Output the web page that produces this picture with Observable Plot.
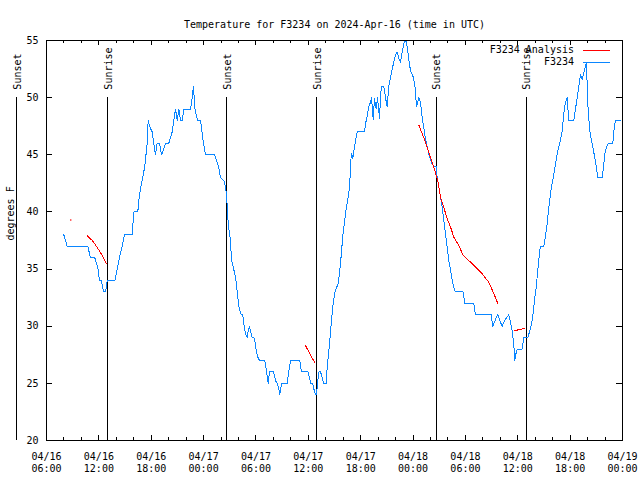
<!DOCTYPE html>
<html><head><meta charset="utf-8">
<script src="https://cdn.jsdelivr.net/npm/d3@7"></script>
<script src="https://cdn.jsdelivr.net/npm/@observablehq/plot@0.6"></script>
<style>body{margin:0;background:#fff;}</style>
</head><body><div id="chart"></div>
<script>
// Hours since 2024-04-16 00:00 UTC
const blueHours = [7.98,8.37,10.73,11.04,11.53,11.73,11.90,12.07,12.27,12.42,12.53,12.76,12.96,13.83,14.10,14.36,14.67,14.94,15.82,16.00,16.46,16.58,16.77,17.03,17.26,17.54,17.65,17.80,18.11,18.29,18.49,18.68,18.95,19.18,19.44,19.64,20.01,20.40,20.59,20.78,20.98,21.16,21.35,21.55,21.73,22.50,22.69,22.84,23.01,23.30,23.65,23.82,23.99,24.22,25.25,25.48,25.71,25.94,26.31,26.43,26.62,26.70,26.77,26.89,27.08,27.20,27.39,27.54,27.66,27.77,27.89,28.03,28.23,28.49,28.61,28.80,29.00,29.11,29.26,29.37,29.57,29.75,29.87,30.03,30.21,30.41,31.01,31.21,31.40,31.55,32.01,32.24,32.43,32.62,32.73,32.93,33.58,33.76,33.96,35.02,35.22,35.98,36.13,36.28,36.51,36.67,36.82,36.94,37.05,37.20,37.40,37.59,37.77,38.05,38.16,38.28,38.46,38.62,38.85,39.00,39.19,39.42,39.61,39.77,39.95,40.14,40.34,40.52,40.75,40.83,40.95,41.10,41.41,41.60,42.44,42.55,42.75,42.93,43.12,43.24,43.43,43.58,43.78,43.93,44.16,44.27,44.38,44.65,44.84,45.04,45.22,45.42,45.61,45.79,45.99,46.18,46.37,46.56,46.76,46.94,47.05,47.25,47.40,47.63,47.79,48.02,48.17,48.28,48.39,48.66,48.85,49.04,49.23,49.42,49.62,49.80,50.00,50.19,50.37,50.68,50.76,50.95,51.15,51.34,51.52,51.72,51.91,52.10,52.29,52.49,52.67,52.86,53.74,53.93,54.96,55.15,56.95,57.14,57.45,57.71,57.94,58.21,58.48,58.79,58.97,59.17,59.36,59.55,59.66,59.82,59.93,60.51,60.69,61.15,61.38,61.57,61.72,61.84,61.95,62.11,62.22,62.41,62.52,62.60,62.98,63.18,63.37,63.56,63.75,63.94,64.13,64.32,64.52,64.70,64.89,65.09,65.27,65.47,65.66,65.84,66.42,66.61,66.81,66.99,67.19,67.38,67.57,67.76,67.87,68.02,68.22,68.45,68.64,68.79,68.98,69.17,69.67,69.86,69.97,70.17,70.36,70.89,71.08,71.20,71.77];
const blueTemps = [38,37,37,36,36,35.5,35,34,34,33.5,33,33,34,34,35,36,37,38,38,40,40,41,42,43,44,46,48,47.5,47,46,45,46,46,45,45.5,46,46,47,48,49,48,49,48,48,49,49,50,51,49,48,48,47,46,45,45,44.5,44,43,42.75,42.5,41.6,40.6,39.5,38.5,37.5,35.75,35.2,34.7,34.3,33.6,32.8,31.8,31.1,31,30.2,29.3,29,29.6,30,29.6,29,29,28.75,27.9,27.3,27,27,26.1,25,26,26,25.25,25,24.5,24,25,25,26,27,27,26,26,25.5,25,25,24.4,24,24,25,26,26,25.5,25,25,26.4,27.3,28.75,30.2,32,32.8,33.3,33.7,34.9,36.2,37.9,39.1,40.3,41.1,42.3,44.2,45.1,44.7,46.25,47,47,47.7,48.4,49.2,49.6,50,48.1,49.9,49,50,48.2,50,51,51,50,49.2,51,51.8,52.5,53.1,53.7,54,53.4,53.1,54,54.7,55,54.9,54,52.7,52.2,51.8,51.2,50.6,49.2,50,49.6,48.3,47.4,46.4,45.7,45.1,44.6,44.2,44,44,43,42.2,41.3,40.4,39.25,38.1,36.9,35.75,34.9,34,33.4,33,33,32,32,31,31,30,30.6,31,30.5,30,30.5,30.8,31,30.3,29.6,28.3,27,27.7,28,28,29,29,29.6,30.2,30.9,31.7,32.5,33.4,34.3,35.75,36.6,37,37,37.9,39,40.4,41.6,42.5,43.3,44.2,45.1,45.7,46.25,47.1,48.6,49.6,50,48,48,49,50,51,52,51.6,52.2,52.8,53,49.5,47.3,46.25,45.5,44.9,44,43,43,44.2,45.1,45.7,46,46,47.6,48,48];

const redHours   = [8.78, 10.70,11.24,11.81,12.38,12.84, 35.68,36.74, 48.66,49.23,49.80,50.38,50.83,51.15,51.52,51.91,52.29,52.67,53.24,53.74,54.38,55.15,55.92,56.67,57.18,57.71, 59.66,60.12,60.77];
const redTemps   = [39.3, 37.9,37.5,36.9,36.2,35.5, 28.3,26.8, 47.6,46.5,45.2,43.9,42.75,41.3,40.4,39.4,38.7,37.8,37.06,36.2,35.75,35.2,34.6,33.85,33,32, 29.6,29.7,29.8];
const redSegment = [1, 2,2,2,2,2, 3,3, 4,4,4,4,4,4,4,4,4,4,4,4,4,4,4,4,4,4, 5,5,5];

const eventHours  = [2.56, 13.02, 26.66, 36.97, 50.65, 60.96];
const eventLabels = ["Sunset","Sunrise","Sunset","Sunrise","Sunset","Sunrise"];

const xMajorTicks = [6,12,18,24,30,36,42,48,54,60,66,72];
const xMinorTicks = [8,10,14,16,20,22,26,28,32,34,38,40,44,46,50,52,56,58,62,64,68,70];
const yTicks = [20,25,30,35,40,45,50,55];
const titleText = "Temperature for F3234 on 2024-Apr-16 (time in UTC)";
const yLabel = "degrees F";
const legendNames = ["F3234 Analysis", "F3234"];
const blueColor = "#0a86ff";
const redColor = "#ff0000";

const blue = blueHours.map((h, i) => ({h, t: blueTemps[i]}));
const red = redHours.map((h, i) => ({h, t: redTemps[i], s: redSegment[i]}));
const counts = d3.rollup(red, v => v.length, d => d.s);
const redLines = red.filter(d => counts.get(d.s) > 1);
const redDots = red.filter(d => counts.get(d.s) === 1);
const events = eventHours.map((h, i) => ({h, label: eventLabels[i]}));

const fmt = h => {
  const day = 16 + Math.floor(h / 24);
  const hr = h % 24;
  return `04/${day}\n${String(hr).padStart(2, "0")}:00`;
};

const W = 640, H = 480, mL = 46, mR = 18, mT = 40, mB = 40;
const fw = W - mL - mR, fh = H - mT - mB;
const font = "DejaVu Sans Mono";
const crisp = {stroke: "black", shapeRendering: "crispEdges"};

const chart = Plot.plot({
  width: W, height: H,
  marginLeft: mL, marginRight: mR, marginTop: mT, marginBottom: mB,
  style: {fontFamily: font, fontSize: "10px", background: "white", color: "black", overflow: "visible"},
  x: {domain: [6, 72]},
  y: {domain: [20, 55]},
  marks: [
    Plot.ruleX(xMajorTicks, {x: d => d, insetTop: fh - 5, ...crisp}),
    Plot.ruleX(xMajorTicks, {x: d => d, insetBottom: fh - 5, ...crisp}),
    Plot.ruleX(xMinorTicks, {x: d => d, insetTop: fh - 3, ...crisp}),
    Plot.ruleX(xMinorTicks, {x: d => d, insetBottom: fh - 3, ...crisp}),
    Plot.ruleY(yTicks, {y: d => d, insetRight: fw - 6, ...crisp}),
    Plot.ruleY(yTicks, {y: d => d, insetLeft: fw - 6, ...crisp}),
    Plot.axisX(xMajorTicks, {tickSize: 0, tickPadding: 11, tickFormat: fmt, lineHeight: 1.2, label: null, fontSize: 10}),
    Plot.axisY(yTicks, {tickSize: 0, tickPadding: 8, label: null, fontSize: 10}),
    Plot.ruleX(events, {x: "h", y1: 20, y2: 50, strokeWidth: 1, ...crisp}),
    Plot.text(events, {x: "h", y: 50, text: "label", rotate: -90, textAnchor: "start", dy: -8, dx: 1, fill: "black", fontSize: 10}),
    Plot.line(blue, {x: "h", y: "t", stroke: blueColor, strokeWidth: 1, shapeRendering: "crispEdges"}),
    Plot.line(redLines, {x: "h", y: "t", z: "s", stroke: redColor, strokeWidth: 1, shapeRendering: "crispEdges"}),
    Plot.dot(redDots, {x: "h", y: "t", r: 0.8, fill: redColor, stroke: null}),
    Plot.frame({stroke: "black", shapeRendering: "crispEdges"}),
    Plot.text([titleText], {frameAnchor: "top", dy: -20, text: d => d, fill: "black", fontSize: 10}),
    Plot.text([yLabel], {frameAnchor: "left", dx: -36, rotate: -90, text: d => d, fill: "black", fontSize: 10})
  ]
});

const svg = d3.select(chart);
const lg = svg.append("g").attr("font-family", font).attr("font-size", 10);
const legendColors = [redColor, blueColor];
legendNames.forEach((name, i) => {
  const y = mT + 10 + i * 12;
  lg.append("text").attr("x", W - mR - 48).attr("y", y).attr("dy", "0.32em")
    .attr("text-anchor", "end").attr("fill", "black").text(name);
  lg.append("line").attr("x1", W - mR - 39).attr("x2", W - mR - 12)
    .attr("y1", y + 0.5).attr("y2", y + 0.5).attr("stroke", legendColors[i])
    .attr("stroke-width", 1).attr("shape-rendering", "crispEdges");
});

document.getElementById("chart").appendChild(chart);
</script>
</body></html>
